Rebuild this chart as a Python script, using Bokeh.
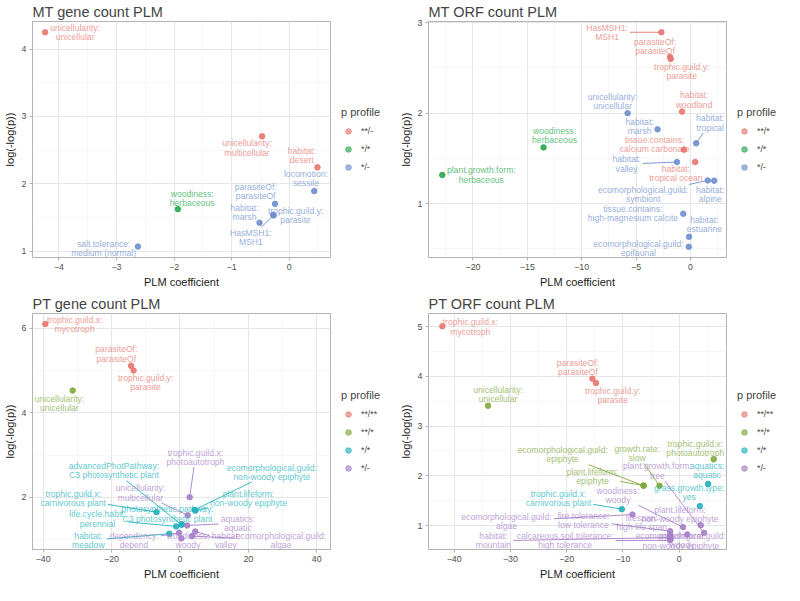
import math
from bokeh.plotting import figure
from bokeh.layouts import gridplot
from bokeh.models import FixedTicker, Legend, LegendItem, Range1d
from bokeh.embed import file_html
from bokeh.resources import INLINE
from bokeh.core.properties import value

FONT = "Liberation Sans"

# ---------------- data ----------------
# Panel 1: MT gene count PLM
mt_gene_levels = ["**/-", "*/*", "*/-"]
mt_gene_labels = ["unicellularity:\nunicellular", "unicellularity:\nmulticellular", "habitat:\ndesert",
                  "woodiness:\nherbaceous", "locomotion:\nsessile", "parasiteOf:\nparasiteOf",
                  "trophic.guild.y:\nparasite", "habitat:\nmarsh", "HasMSH1:\nMSH1",
                  "salt.tolerance:\nmedium (normal)"]
mt_gene_coef = [-4.24, -0.47, 0.494, -1.933, 0.437, -0.245, -0.274, -0.514, -0.27, -2.627]
mt_gene_logp = [4.25, 2.705, 2.244, 1.623, 1.891, 1.702, 1.538, 1.42, 1.53, 1.067]
mt_gene_profile = ["**/-", "**/-", "**/-", "*/*", "*/-", "*/-", "*/-", "*/-", "*/-", "*/-"]

# Panel 2: MT ORF count PLM
mt_orf_levels = ["**/*", "*/*", "*/-"]
mt_orf_labels = ["HasMSH1:\nMSH1", "parasiteOf:\nparasiteOf", "trophic.guild.y:\nparasite",
                 "habitat:\nwoodland", "tissue.contains:\ncalcium carbonate", "habitat:\ntropical ocean",
                 "unicellularity:\nunicellular", "habitat:\nmarsh", "habitat:\ntropical", "habitat:\nvalley",
                 "ecomorphological.guild:\nsymbiont", "habitat:\nalpine",
                 "tissue.contains:\nhigh-magnesium calcite", "habitat:\nestuarine",
                 "ecomorphological.guild:\nepifaunal", "woodiness:\nherbaceous",
                 "plant.growth.form:\nherbaceous"]
mt_orf_coef = [-2.67, -1.87, -1.81, -0.77, -0.6, 0.44, -5.78, -3.02, 0.53, -1.24, 1.6, 2.19,
               -0.66, -0.12, -0.15, -13.51, -22.82]
mt_orf_logp = [2.895, 2.621, 2.60, 2.017, 1.596, 1.459, 2.0, 1.821, 1.666, 1.459, 1.256, 1.253,
               0.887, 0.632, 0.522, 1.621, 1.316]
mt_orf_profile = ["**/*"] * 6 + ["*/-"] * 9 + ["*/*", "*/*"]

# Panel 3: PT gene count PLM
pt_gene_levels = ["**/**", "**/*", "*/*", "*/-"]
pt_gene_labels = ["trophic.guild.x:\nmycotroph", "parasiteOf:\nparasiteOf", "trophic.guild.y:\nparasite",
                  "unicellularity:\nunicellular", "trophic.guild.x:\nphotoautotroph",
                  "unicellularity:\nmulticellular", "aquatics:\naquatic", "habitat:\nvalley",
                  "ecomorphological.guild:\nalgae", "dependency:\ndepend", "woodiness:\nwoody",
                  "advancedPhotPathway:\nC3 photosynthetic plant",
                  "photosynthetic.pathway:\nC3 photosynthetic plant",
                  "ecomorphological.guild:\nnon-woody epiphyte", "plant.lifeform:\nnon-woody epiphyte",
                  "trophic.guild.x:\ncarnivorous plant", "life.cycle.habit:\nperennial", "habitat:\nmeadow"]
pt_gene_coef = [-39.35, -14.28, -13.54, -31.35, 2.86, 2.29, 2.12, 4.47, 3.53, -0.25, 0.42,
                0.51, 0.55, 4.27, 4.55, -6.84, -1.10, -3.08]
pt_gene_logp = [6.106, 5.115, 5.002, 4.529, 2.0, 1.572, 1.331, 1.189, 1.077, 1.158, 1.023,
                1.347, 1.36, 1.70, 1.685, 1.646, 1.309, 1.135]
pt_gene_profile = ["**/**"] * 3 + ["**/*"] + ["*/-"] * 7 + ["*/*"] * 7

# Panel 4: PT ORF count PLM
pt_orf_levels = ["**/**", "**/*", "*/*", "*/-"]
pt_orf_labels = ["trophic.guild.x:\nmycotroph", "parasiteOf:\nparasiteOf", "trophic.guild.y:\nparasite",
                 "unicellularity:\nunicellular", "trophic.guild.x:\nphotoautotroph",
                 "ecomorphological.guild:\nepiphyte", "plant.lifeform:\nepiphyte", "growth.rate:\nslow",
                 "aquatics:\naquatic", "grass.growth.type:\nyes", "trophic.guild.x:\ncarnivorous plant",
                 "plant.growth.form:\ntree", "woodiness:\nwoody", "plant.lifeform:\nnon-woody epiphyte",
                 "ecomorphological.guild:\nalgae", "fire.tolerance:\nlow tolerance",
                 "lifespan:\nhigh life span", "habitat:\nmountain",
                 "calcareous.soil.tolerance:\nhigh tolerance",
                 "ecomorphological.guild:\nnon-woody epiphyte", "growth.form:\nwoody"]
pt_orf_coef = [-42.11, -15.42, -14.78, -33.98, 6.14, -6.31, -6.35, -3.49, 5.16, 3.67, -10.19,
               4.42, 0.69, 3.84, -8.30, -1.60, -1.60, -1.60, -1.60, 1.43, -1.5]
pt_orf_logp = [5.01, 3.955, 3.868, 3.41, 2.335, 1.80, 1.805, 1.80, 1.836, 1.391, 1.329,
               0.854, 0.968, 1.006, 1.22, 0.886, 0.816, 0.759, 0.702, 0.821, 0.73]
pt_orf_profile = ["**/**"] * 3 + ["**/*"] * 5 + ["*/*"] * 3 + ["*/-"] * 10

# ---------------- label layout (repel offsets, screen px; dy positive = up) ----------------
mt_gene_dx = [30, -15, -15.7, 14.3, -8.3, -19.3, 22.3, -15, -22.7, -34.3]
mt_gene_dy = [0, -11.7, 12, 11, 12.7, 12.7, -0.7, 10, -21.7, -1.7]
mt_orf_dx = [-54.3, -15, 11, 12, -29.3, -19.3, -15, -18, 14, -50.3, -64.7, -4, -50.3, 15.3, -50.3, 11, 39]
mt_orf_dy = [0, 10.7, -12.3, 11.7, 5, -11.3, 12, 2.7, 20.3, -2, -14, -13.7, 0, 12, -1.7, 11.7, 0]
pt_gene_dx = [29.3, -14.7, 12, -13.3, 5.7, -47.3, 50.7, 30.7, 89, -45, 6.7, -67.7, -14.3, 77.3, 53,
              -83.3, -78.7, -81]
pt_gene_dy = [-0.7, 11.7, -11.7, -13.3, 40, 22.3, 2.3, -9, -4, -7.7, -1.7, 54, 10.3, 37.7, 11.7,
              13.3, 7.3, -6.7]
pt_orf_dx = [28, -14.6, 16.7, 10, -18.4, -81, -51, -22.4, -1, -10.6, -63.4, -46.7, -65, -20.6,
             -126, -86.7, -28.4, -176.7, -105, -6.3, 11.3]
pt_orf_dy = [-0.7, 11, -12.7, 11, 10.3, 31, 9, 32.3, 13.3, 13.4, 10.7, 61.7, 31.7, 11, -6.6, 11, 12,
             -3.3, -0.3, -6.6, -1.8]

PAL3 = ["#E8766E", "#27A94E", "#6F8FCE"]
PAL4 = ["#E8766E", "#7FA83C", "#22B3BC", "#A680C8"]

LABEL_FS = 8.6
LINE_H = 0.92
CW = {'i': .222, 'j': .222, 'l': .222, '.': .278, ':': .278, ',': .278, ' ': .278, 'f': .278,
      't': .278, 'r': .333, '(': .333, ')': .333, '-': .333, 'm': .833, 'w': .722, 'M': .833,
      'W': .944, 'c': .5, 'k': .5, 's': .5, 'v': .5, 'x': .5, 'y': .5, 'z': .5, 'I': .278,
      'O': .778, 'H': .722, 'S': .667, 'P': .667, 'C': .722, 'L': .556}

LW = 64          # legend strip width
FW, FH = 298, 236
H = 292


def text_w(s):
    return sum(CW.get(ch, .556) for ch in s) * LABEL_FS


def make_legend(levels, pal, alpha):
    lf = figure(width=LW, height=H, x_range=Range1d(0, 1), y_range=Range1d(0, 1),
                output_backend="svg", toolbar_location=None, x_axis_type=None, y_axis_type=None,
                min_border_left=0, min_border_right=0, min_border_top=2, min_border_bottom=0)
    lf.outline_line_color = None
    lf.grid.visible = False
    items = []
    for lev, col in zip(levels, pal):
        r = lf.scatter([-5], [-5], size=5.5, color=col, alpha=alpha)
        items.append(LegendItem(label=lev, renderers=[r]))
    legend = Legend(items=items, title="p profile", location="left",
                    title_text_font_size="11px", title_text_font_style="normal", title_text_font=FONT,
                    label_text_font_size="8.8px", label_text_font=FONT, glyph_width=14,
                    glyph_height=14, spacing=4, padding=3, margin=9, border_line_color=None,
                    background_fill_alpha=0, label_standoff=6, title_standoff=6)
    lf.add_layout(legend)
    return lf


def make_panel(title, labels, coef, logp, profile, dx, dy, levels, pal, xr, yr, xt, xm, yt, ym):
    p = figure(frame_width=FW, frame_height=FH, x_range=Range1d(*xr), y_range=Range1d(*yr),
               output_backend="svg", toolbar_location=None, title=title,
               min_border_left=0, min_border_right=2, min_border_top=0, min_border_bottom=0)
    ppx = FW / (xr[1] - xr[0])
    ppy = FH / (yr[1] - yr[0])
    cmap = dict(zip(levels, pal))

    for lev in levels:
        xs = [c for c, g in zip(coef, profile) if g == lev]
        ys = [v for v, g in zip(logp, profile) if g == lev]
        p.scatter(xs, ys, size=5.5, color=cmap[lev], alpha=0.9)

    sx0, sy0, sx1, sy1, scol = [], [], [], [], []
    lx, ly, lcol = [], [], []
    for lab, x, y, g, ddx, ddy in zip(labels, coef, logp, profile, dx, dy):
        lx.append(x + ddx / ppx)
        ly.append(y + ddy / ppy)
        lcol.append(cmap[g])
        lines = lab.split("\n")
        w = max(text_w(t) for t in lines) / 2 + 2
        h = len(lines) * LABEL_FS * LINE_H / 2 + 2
        sx = w / abs(ddx) if ddx else 1e9
        sy = h / abs(ddy) if ddy else 1e9
        s = min(sx, sy)
        if s < 1:
            ln = (1 - s) * math.hypot(ddx, ddy)
            if ln > 7:
                sx0.append(x)
                sy0.append(y)
                sx1.append(x + ddx * (1 - s) / ppx)
                sy1.append(y + ddy * (1 - s) / ppy)
                scol.append(cmap[g])
    p.segment(x0=sx0, y0=sy0, x1=sx1, y1=sy1, line_color=scol, line_width=1, line_alpha=0.9)

    p.text(x=lx, y=ly, text=labels, text_color=lcol, text_alpha=0.75, text_font=value(FONT),
           text_font_size=f"{LABEL_FS}px", text_align="center", text_baseline="middle",
           text_line_height=LINE_H)

    p.title.text_font = FONT
    p.title.text_font_size = "14.5px"
    p.title.text_font_style = "normal"
    p.title.standoff = 3

    p.xaxis.axis_label = "PLM coefficient"
    p.yaxis.axis_label = "log(-log(p))"
    p.xaxis.ticker = FixedTicker(ticks=xt, minor_ticks=xm)
    p.yaxis.ticker = FixedTicker(ticks=yt, minor_ticks=ym)
    p.xgrid.ticker = FixedTicker(ticks=xt, minor_ticks=xm)
    p.ygrid.ticker = FixedTicker(ticks=yt, minor_ticks=ym)
    for ax in (p.xaxis[0], p.yaxis[0]):
        ax.axis_line_color = None
        ax.major_tick_line_color = "#b3b3b3"
        ax.major_tick_out = 3
        ax.major_tick_in = 0
        ax.minor_tick_line_color = None
        ax.major_label_text_font = FONT
        ax.major_label_text_font_size = "8.8px"
        ax.major_label_text_color = "#4d4d4d"
        ax.axis_label_text_font = FONT
        ax.axis_label_text_font_size = "11px"
        ax.axis_label_text_font_style = "normal"
        ax.axis_label_text_color = "#1a1a1a"
        ax.major_label_standoff = 2
        ax.axis_label_standoff = 3
    for gr in (p.xgrid[0], p.ygrid[0]):
        gr.grid_line_color = "#e3e3e3"
        gr.grid_line_width = 0.9
        gr.minor_grid_line_color = "#f1f1f1"
        gr.minor_grid_line_width = 0.6
    p.outline_line_color = "#b3b3b3"
    p.outline_line_width = 1
    p.background_fill_color = "white"
    p.border_fill_color = "white"
    return p


p1 = make_panel("MT gene count PLM", mt_gene_labels, mt_gene_coef, mt_gene_logp, mt_gene_profile,
                mt_gene_dx, mt_gene_dy, mt_gene_levels, PAL3, (-4.46, 0.72), (0.905, 4.41),
                [-4, -3, -2, -1, 0], [-4.5, -3.5, -2.5, -1.5, -0.5, 0.5], [1, 2, 3, 4], [1.5, 2.5, 3.5])
p2 = make_panel("MT ORF count PLM", mt_orf_labels, mt_orf_coef, mt_orf_logp, mt_orf_profile,
                mt_orf_dx, mt_orf_dy, mt_orf_levels, PAL3, (-24.09, 3.32), (0.403, 3.014),
                [-20, -15, -10, -5, 0], [-22.5, -17.5, -12.5, -7.5, -2.5, 2.5], [1, 2, 3], [0.5, 1.5, 2.5])
p3 = make_panel("PT gene count PLM", pt_gene_labels, pt_gene_coef, pt_gene_logp, pt_gene_profile,
                pt_gene_dx, pt_gene_dy, pt_gene_levels, PAL4, (-43.1, 44.04), (0.761, 6.354),
                [-40, -20, 0, 20, 40], [-30, -10, 10, 30], [2, 4, 6], [1, 3, 5])
p4 = make_panel("PT ORF count PLM", pt_orf_labels, pt_orf_coef, pt_orf_logp, pt_orf_profile,
                pt_orf_dx, pt_orf_dy, pt_orf_levels, PAL4, (-44.57, 8.42), (0.518, 5.266),
                [-40, -30, -20, -10, 0], [-35, -25, -15, -5, 5], [1, 2, 3, 4, 5], [1.5, 2.5, 3.5, 4.5])

l1 = make_legend(mt_gene_levels, PAL3, 0.65)
l2 = make_legend(mt_orf_levels, PAL3, 0.65)
l3 = make_legend(pt_gene_levels, PAL4, 0.65)
l4 = make_legend(pt_orf_levels, PAL4, 0.65)

grid = gridplot([[p1, l1, p2, l2], [p3, l3, p4, l4]], toolbar_location=None)
open("out.html", "w").write(file_html(grid, INLINE))
